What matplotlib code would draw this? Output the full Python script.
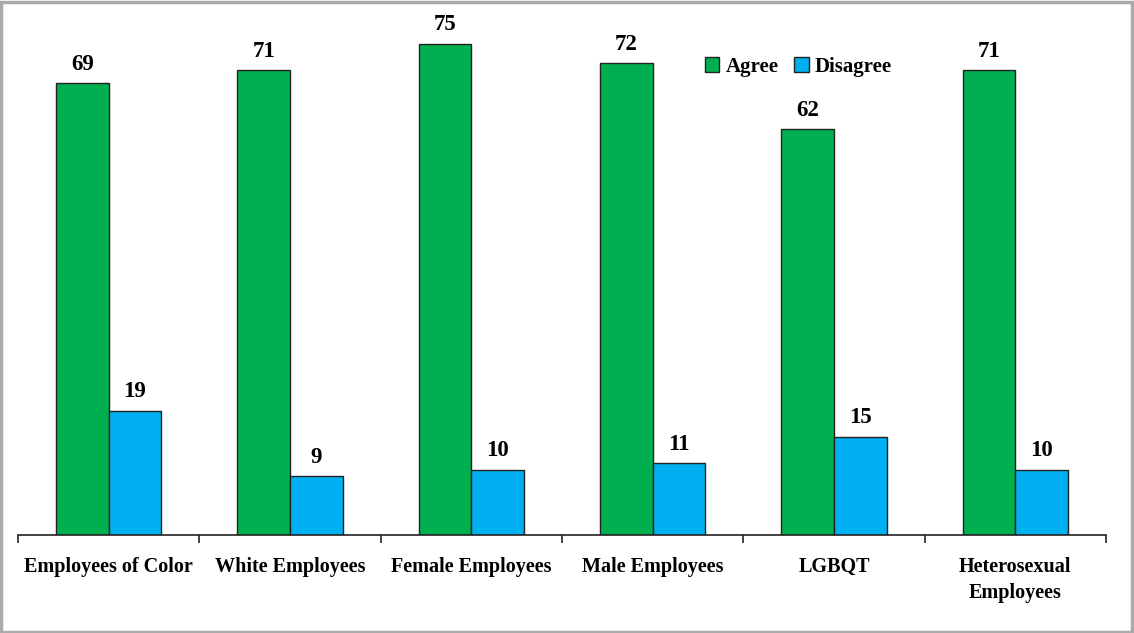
import matplotlib
matplotlib.use('Agg')
import matplotlib.pyplot as plt
import numpy as np
from matplotlib.patches import Rectangle

categories = ['Employees of Color', 'White Employees', 'Female Employees',
              'Male Employees', 'LGBQT', 'Heterosexual\nEmployees']
agree = [69, 71, 75, 72, 62, 71]
disagree = [19, 9, 10, 11, 15, 10]

GREEN = '#00B050'
BLUE = '#00B0F0'
plt.rcParams['font.family'] = ['Liberation Serif', 'DejaVu Serif']
plt.rcParams['font.weight'] = 'bold'

fig = plt.figure(figsize=(11.34, 6.33), dpi=100)
ax = fig.add_axes([0.0159, 0.1548, 0.9594, 0.8278])

x = np.arange(len(categories))
w = 0.29
b1 = ax.bar(x - w / 2, agree, w, color=GREEN, edgecolor='#222222', linewidth=1, label='Agree')
b2 = ax.bar(x + w / 2, disagree, w, color=BLUE, edgecolor='#222222', linewidth=1, label='Disagree')
for bars, vals in ((b1, agree), (b2, disagree)):
    for r, v in zip(bars, vals):
        ax.annotate(str(v), (r.get_x() + r.get_width() / 2, v), xytext=(0, 6),
                    textcoords='offset points', ha='center', va='bottom',
                    fontsize=16.5, fontweight='bold')

ax.set_xlim(-0.5, len(categories) - 0.5)
ax.set_ylim(0, 80)
ax.set_yticks([])
for s in ('top', 'right', 'left'):
    ax.spines[s].set_visible(False)
ax.spines['bottom'].set_color('#222222')
ax.spines['bottom'].set_linewidth(1.2)
ax.set_xticks(np.arange(len(categories) + 1) - 0.5)
ax.set_xticklabels([])
ax.tick_params(axis='x', length=6, width=1.2, color='#222222')
for i, c in enumerate(categories):
    ax.text(i, -3.3, c, ha='center', va='top', fontsize=14.5, fontweight='bold',
            linespacing=1.45)

leg = ax.legend(loc='upper left', bbox_to_anchor=(0.614, 0.948), ncol=2, frameon=False,
                fontsize=15, handlelength=0.7, handleheight=0.7, handletextpad=0.3,
                columnspacing=0.75)

# gray border around the whole figure
fig.patches.append(Rectangle((0.001, 0.002), 0.997, 0.995, transform=fig.transFigure,
                             fill=False, edgecolor='#AAAAAA', linewidth=2.5))

fig.savefig('out.png', dpi=100)
